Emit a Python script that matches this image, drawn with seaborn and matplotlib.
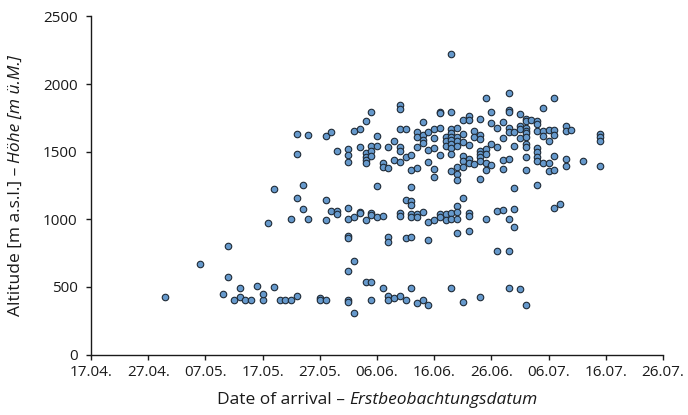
import matplotlib
matplotlib.use("Agg")
import matplotlib.pyplot as plt
import matplotlib.dates as mdates
import seaborn as sns
import pandas as pd
import numpy as np

# Day offsets from 17 April and altitudes (m a.s.l.)
arrival_day = (
    [13, 19, 23, 24, 24, 25, 26, 26, 27, 28, 29, 30, 30, 31, 32, 32, 33, 34, 35, 35]
    + [36, 36, 36, 36, 37, 37, 38, 38, 40, 40, 41, 41, 41, 41, 42, 42, 43, 43, 43]
    + [45] * 10 + [46] * 4 + [47] * 4 + [48] * 7 + [49] * 8 + [50] * 4 + [51] * 4
    + [52] * 6 + [53] * 3 + [54] * 9 + [55] * 5 + [56] * 9 + [57] * 7 + [58] * 6
    + [59] * 6 + [60] * 6 + [61] * 6 + [62] * 5 + [63] * 13 + [64] * 11 + [65] * 8
    + [66] * 8 + [67] * 3 + [68] * 9 + [69] * 6 + [70] * 4 + [71] * 4 + [72] * 5
    + [73] * 9 + [74] * 5 + [75] * 5 + [76] * 11 + [77] + [78] * 8 + [79] * 4
    + [80] * 4 + [81] * 6 + [82] + [83] * 4 + [84] + [86] + [89] * 4
)
altitude = (
    [424, 673, 446, 803, 574, 406, 495, 424, 406, 406, 505, 404, 448, 976, 500, 1225, 404, 404, 404, 1005]
    + [434, 1155, 1631, 1481, 1251, 1079, 1005, 1624, 420, 404, 404, 1146, 995, 1614, 1064, 1643, 1064, 1040, 1503]
    + [404, 392, 616, 874, 862, 1084, 1005, 1523, 1473, 1421]
    + [305, 695, 1015, 1656]
    + [1055, 1044, 1670, 1537]
    + [535, 995, 1730, 1493, 1463, 1439, 1414]
    + [537, 404, 1794, 1542, 1508, 1471, 1047, 1035]
    + [1614, 1542, 1244, 1015]
    + [1414, 1385, 495, 1022]
    + [1380, 1533, 867, 830, 429, 404]
    + [1582, 1439, 416]
    + [1845, 1816, 1666, 1537, 1508, 1422, 1050, 1027, 429]
    + [1668, 1463, 1146, 862, 404]
    + [1476, 1365, 1242, 1133, 1104, 1042, 1015, 867, 495]
    + [1648, 1606, 1380, 1533, 1042, 1015, 379]
    + [1722, 1624, 1589, 1562, 1052, 404]
    + [1648, 1515, 1422, 983, 848, 367]
    + [1668, 1601, 1525, 1372, 1316, 995]
    + [1796, 1789, 1675, 1476, 1042, 1015]
    + [1611, 1582, 1542, 1042, 995]
    + [2222, 1796, 1668, 1636, 1611, 1587, 1557, 1525, 1483, 1360, 1045, 1003, 495]
    + [1673, 1611, 1582, 1542, 1385, 1335, 1291, 1096, 1052, 1003, 899]
    + [1735, 1631, 1572, 1471, 1429, 1385, 1155, 387]
    + [1767, 1737, 1552, 1446, 1414, 1045, 1025, 914]
    + [1651, 1606, 1409]
    + [1744, 1621, 1594, 1508, 1483, 1459, 1429, 1301, 426]
    + [1895, 1518, 1483, 1414, 1365, 1005]
    + [1796, 1715, 1557, 1404]
    + [1673, 1533, 1064, 766]
    + [1722, 1604, 1439, 1372, 1072]
    + [1934, 1808, 1796, 1675, 1643, 1449, 1005, 766, 490]
    + [1643, 1542, 1234, 1077, 946]
    + [1776, 1693, 1668, 1601, 485]
    + [1742, 1730, 1673, 1656, 1636, 1606, 1557, 1533, 1463, 1365, 367]
    + [1737]
    + [1725, 1705, 1656, 1525, 1496, 1463, 1429, 1257]
    + [1823, 1656, 1614, 1414]
    + [1663, 1582, 1414, 1360]
    + [1895, 1663, 1624, 1471, 1365, 1082]
    + [1114]
    + [1693, 1651, 1444, 1395]
    + [1663]
    + [1434]
    + [1631, 1606, 1582, 1395]
)
start_date = "2000-04-17"
tick_labels = ["17.04.", "27.04.", "07.05.", "17.05.", "27.05.", "06.06.",
               "16.06.", "26.06.", "06.07.", "16.07.", "26.07."]
y_ticks = [0, 500, 1000, 1500, 2000, 2500]

df = pd.DataFrame({
    "date": pd.Timestamp(start_date) + pd.to_timedelta(arrival_day, unit="D"),
    "altitude": altitude,
})

sns.set_style("white")
plt.rcParams["font.family"] = ["Open Sans", "DejaVu Sans"]

fig = plt.figure(figsize=(6.88, 4.15), dpi=100)
ax = fig.add_axes([91 / 688, 1 - 354.5 / 415, (663 - 91) / 688, (354.5 - 16.5) / 415])

sns.scatterplot(data=df, x="date", y="altitude", ax=ax, s=22,
                color="#6699cc", edgecolor="#1f2a36", linewidth=0.8, zorder=3, legend=False)

tick_dates = pd.date_range(start_date, periods=len(tick_labels), freq="10D")
ax.set_xticks(mdates.date2num(tick_dates))
ax.set_xticklabels(tick_labels)
ax.set_xlim(mdates.date2num(tick_dates[0]), mdates.date2num(tick_dates[-1]))
ax.set_ylim(0, 2500)
ax.set_yticks(y_ticks)
ax.set_xlabel("")
ax.set_ylabel("")

for s in ["top", "right"]:
    ax.spines[s].set_visible(False)
for s in ["left", "bottom"]:
    ax.spines[s].set_color("#1a1a1a")
    ax.spines[s].set_linewidth(1.0)
ax.tick_params(axis="both", which="major", direction="out", length=3.6, width=1.0,
               color="#1a1a1a", labelsize=11, labelcolor="#1a1a1a",
               bottom=True, left=True)
ax.tick_params(axis="x", pad=4)
ax.tick_params(axis="y", pad=6)

# Axis titles with an italic German part
fig.canvas.draw()
r = fig.canvas.get_renderer()
fs = 12.5
x1 = fig.text(0, 0, "Date of arrival – ", fontsize=fs, color="#1a1a1a", ha="left", va="center")
x2 = fig.text(0, 0, "Erstbeobachtungsdatum", fontsize=fs, style="italic", color="#1a1a1a",
              ha="left", va="center")
w1 = x1.get_window_extent(r).width
w2 = x2.get_window_extent(r).width
cx = (91 + 663) / 2
left = cx - (w1 + w2) / 2
yx = 1 - 400 / 415
x1.set_position((left / 688, yx))
x2.set_position(((left + w1) / 688, yx))

y1 = fig.text(0, 0, "Altitude [m a.s.l.] – ", fontsize=fs, color="#1a1a1a", rotation=90,
              rotation_mode="anchor", ha="left", va="center")
y2 = fig.text(0, 0, "Höhe [m ü.M.]", fontsize=fs, style="italic", color="#1a1a1a", rotation=90,
              rotation_mode="anchor", ha="left", va="center")
h1 = y1.get_window_extent(r).height
h2 = y2.get_window_extent(r).height
cy = 415 - (16.5 + 354.5) / 2
bottom = cy - (h1 + h2) / 2
xy = 16 / 688
y1.set_position((xy, bottom / 415))
y2.set_position((xy, (bottom + h1) / 415))

fig.savefig("out.png", dpi=100)
